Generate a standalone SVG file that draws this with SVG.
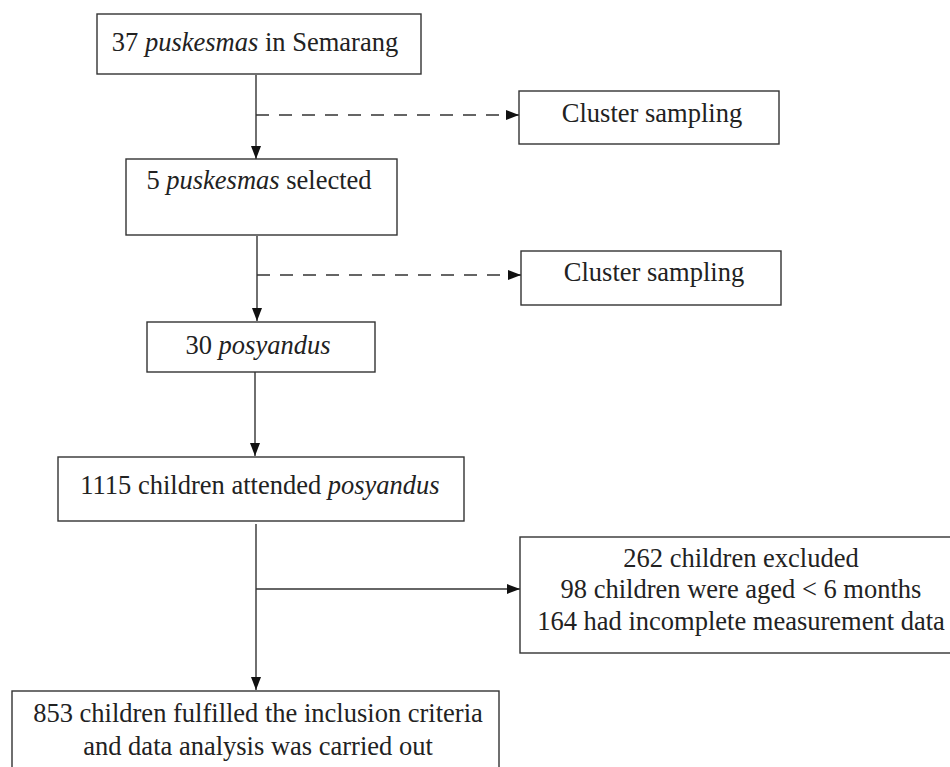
<svg xmlns="http://www.w3.org/2000/svg" width="950" height="767" viewBox="0 0 950 767">
<style>
.box{fill:#fff;stroke:#333;stroke-width:1.4}
.t{font-family:"Liberation Serif","DejaVu Serif",serif;font-size:26.5px;fill:#222;text-anchor:middle}
.i{font-style:italic}
.ln{fill:none;stroke:#333;stroke-width:1.4}
.dash{stroke-dasharray:13 10}
</style>
<defs>
<marker id="ah" viewBox="0 0 13 10" refX="13" refY="5" markerWidth="13" markerHeight="10" markerUnits="userSpaceOnUse" orient="auto">
<path d="M0,0 L13,5 L0,10 Z" fill="#111"/>
</marker>
</defs>
<rect width="950" height="767" fill="#fff"/>
<g id="connectors">
<line class="ln" x1="256" y1="75" x2="256" y2="159" marker-end="url(#ah)"/>
<line class="ln dash" x1="256" y1="115" x2="519" y2="115" marker-end="url(#ah)"/>
<line class="ln" x1="257" y1="236" x2="257" y2="321" marker-end="url(#ah)"/>
<line class="ln dash" x1="257" y1="275" x2="521" y2="275" marker-end="url(#ah)"/>
<line class="ln" x1="255" y1="372" x2="255" y2="456" marker-end="url(#ah)"/>
<line class="ln" x1="256" y1="524" x2="256" y2="690" marker-end="url(#ah)"/>
<line class="ln" x1="256" y1="589" x2="520" y2="589" marker-end="url(#ah)"/>
</g>
<g id="n1">
<rect class="box" x="97" y="14" width="324" height="60"/>
<text class="t" x="255" y="51">37 <tspan class="i">puskesmas</tspan> in Semarang</text>
</g>
<g id="c1">
<rect class="box" x="519" y="91" width="260" height="53"/>
<text class="t" x="652" y="122">Cluster sampling</text>
</g>
<g id="n2">
<rect class="box" x="126" y="159" width="271" height="76"/>
<text class="t" x="259" y="189">5 <tspan class="i">puskesmas</tspan> selected</text>
</g>
<g id="c2">
<rect class="box" x="521" y="251" width="260" height="54"/>
<text class="t" x="654" y="281">Cluster sampling</text>
</g>
<g id="n3">
<rect class="box" x="147" y="322" width="228" height="50"/>
<text class="t" x="258" y="354">30 <tspan class="i">posyandus</tspan></text>
</g>
<g id="n4">
<rect class="box" x="58" y="457" width="406" height="64"/>
<text class="t" x="260" y="494">1115 children attended <tspan class="i">posyandus</tspan></text>
</g>
<g id="n5">
<rect class="box" x="520" y="537" width="432" height="116"/>
<text class="t" x="741" y="567">262 children excluded</text>
<text class="t" x="741" y="598">98 children were aged &lt; 6 months</text>
<text class="t" x="741" y="630">164 had incomplete measurement data</text>
</g>
<g id="n6">
<rect class="box" x="12" y="691" width="487" height="90"/>
<text class="t" x="258" y="722">853 children fulfilled the inclusion criteria</text>
<text class="t" x="258" y="755">and data analysis was carried out</text>
</g>
</svg>
